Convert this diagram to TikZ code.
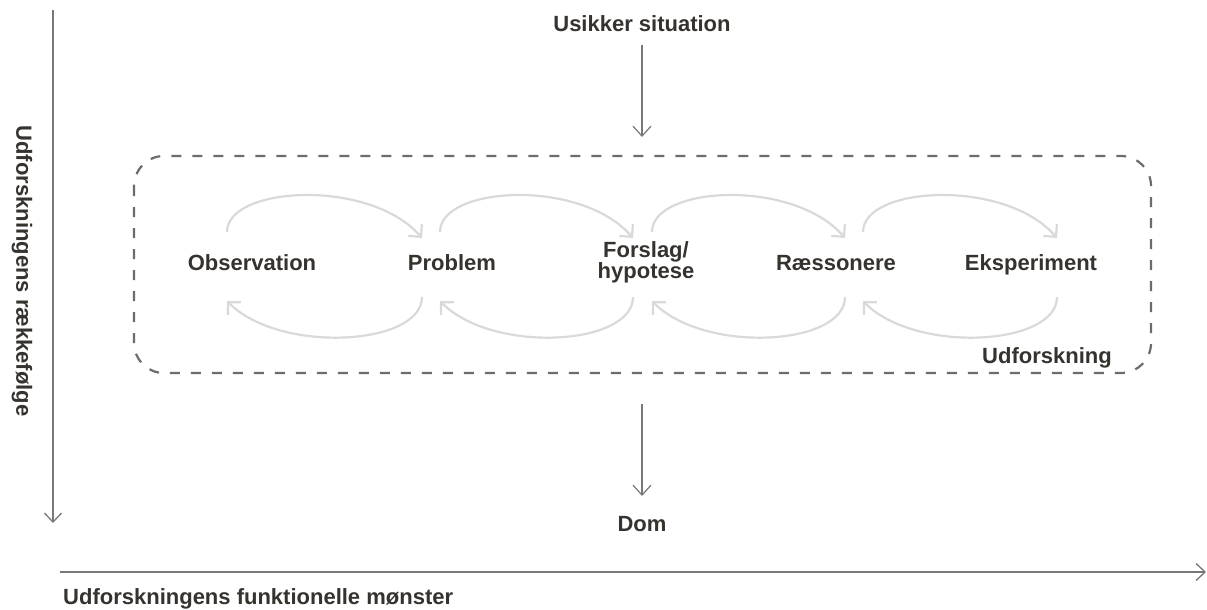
\documentclass[tikz,border=0pt]{standalone}
\usepackage{fontspec}
\setmainfont{Liberation Sans}
\usetikzlibrary{arrows.meta}
\definecolor{txt}{HTML}{36322E}
\definecolor{axis}{HTML}{7A7775}
\definecolor{boxc}{HTML}{6F6B68}
\definecolor{arc}{HTML}{D9D9D9}
\begin{document}
\begin{tikzpicture}[x=1pt,y=-1pt,
  lbl/.style={text=txt,font=\bfseries\fontsize{22}{21}\selectfont,inner sep=0pt,align=center},
  axisline/.style={draw=axis,line width=1.3pt,-{Straight Barb[length=9pt,width=17pt,line width=1.3pt]}},
  flow/.style={draw=axis,line width=1.2pt,-{Straight Barb[length=10pt,width=18pt,line width=1.2pt]}},
  loop/.style={draw=arc,line width=2.2pt,-{Straight Barb[length=9pt,width=18pt,line width=2.2pt]}},
  frame/.style={draw=boxc,line width=2.2pt,dash pattern=on 10pt off 11pt,rounded corners=30pt}]
\useasboundingbox (0,0) rectangle (1207,610);

% axes
\coordinate (vtop) at (53,10);
\coordinate (vbot) at (53,523);
\draw[axisline] (vtop) -- (vbot);
\node[lbl,rotate=-90] (vlab) at (22,271) {Udforskningens rækkefølge};
\coordinate (hl) at (60,572);
\coordinate (hr) at (1206,572);
\draw[axisline] (hl) -- (hr);
\node[lbl,anchor=base west] (hlab) at (63,604) {Udforskningens funktionelle mønster};

% top / bottom
\node[lbl,anchor=base] (start) at (642,32) {Usikker situation};
\node[lbl,anchor=base] (dom) at (642,531) {Dom};

% frame
\draw[frame] (134,156) rectangle (1151,373);
\node[lbl,anchor=base] (udf) at (1047,363) {Udforskning};

\draw[flow] (642,45) -- (642,137);
\draw[flow] (642,404) -- (642,496);

% steps
\node[lbl,anchor=base] (obs) at (252,270) {Observation};
\node[lbl,anchor=base] (prob) at (452,270) {Problem};
\node[lbl,anchor=base] (fors) at (646,278) {Forslag/\\hypotese};
\node[lbl,anchor=base] (raes) at (836,270) {Ræssonere};
\node[lbl,anchor=base] (eks) at (1031,270) {Eksperiment};

% loops
\foreach \L/\R/\n in {227/422/a,440/633/b,652/845/c,863/1057/d}{
  \coordinate (u\n s) at (\L,232);
  \coordinate (u\n e) at (\R,238);
  \coordinate (l\n s) at (\R,297);
  \coordinate (l\n e) at (\L,301);
  \draw[loop] (u\n s) .. controls (\L,186) and (\R-52,178) .. (u\n e);
  \draw[loop] (l\n s) .. controls (\R,346) and (\L+52,354) .. (l\n e);
}
\end{tikzpicture}
\end{document}
